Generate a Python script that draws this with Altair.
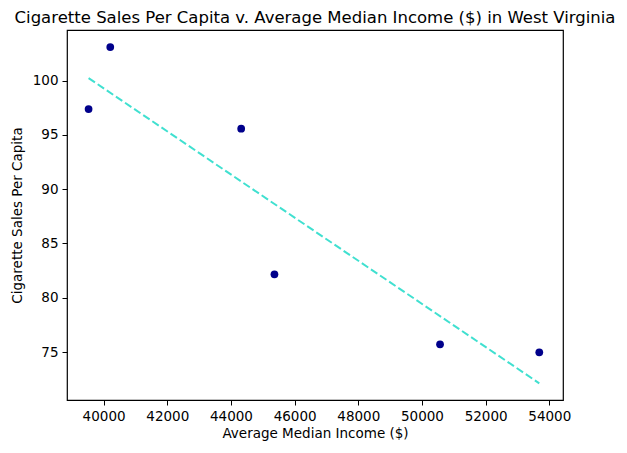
import altair as alt
import pandas as pd

income = [39529, 40210, 44322, 45367, 50568, 53685]
sales = [97.39, 103.1, 95.58, 82.16, 75.71, 74.97]

df = pd.DataFrame({"income": income, "sales": sales})

FONT = "DejaVu Sans"

x = alt.X("income:Q", title="Average Median Income ($)",
          scale=alt.Scale(domain=[38851, 54430], nice=False, zero=False),
          axis=alt.Axis(values=list(range(40000, 54001, 2000)), format="d"))
y = alt.Y("sales:Q", title="Cigarette Sales Per Capita",
          scale=alt.Scale(domain=[70.58, 104.67], nice=False, zero=False),
          axis=alt.Axis(values=[75, 80, 85, 90, 95, 100]))

points = alt.Chart(df).mark_circle(size=60, color="#00008B", opacity=1).encode(x=x, y=y)

line = alt.Chart(df).transform_regression("income", "sales").mark_line(
    color="#40E0D0", strokeDash=[7.7, 3.3], strokeWidth=2
).encode(x=x, y=y)

chart = (line + points).properties(
    width=496, height=370,
    title=alt.TitleParams("Cigarette Sales Per Capita v. Average Median Income ($) in West Virginia",
                          font=FONT, fontSize=16.5, fontWeight="normal", color="black",
                          anchor="middle", offset=4),
    autosize=alt.AutoSizeParams(type="none"),
    padding={"left": 59, "top": 22, "right": 54, "bottom": 43},
).configure_view(stroke="black", strokeWidth=1.2).configure_axis(
    grid=False, domain=False, tickColor="black", tickSize=5, tickWidth=1,
    labelFont=FONT, labelFontSize=13.5, labelColor="black", labelPadding=4,
    titleFont=FONT, titleFontSize=13.5, titleFontWeight="normal", titleColor="black",
).configure_axisX(titlePadding=4).configure_axisY(titlePadding=8)

chart.save("out.html", embed_options={"renderer": "svg", "actions": False})
